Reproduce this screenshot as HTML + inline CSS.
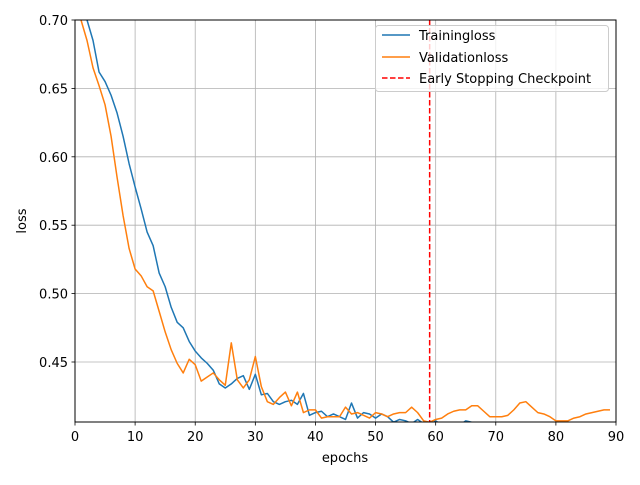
<!DOCTYPE html>
<html><head><meta charset="utf-8"><style>
body{margin:0;background:#fff;font-family:"Liberation Sans","DejaVu Sans",sans-serif}
</style></head><body>
<svg id="chart" width="640" height="480" xmlns="http://www.w3.org/2000/svg" font-family="DejaVu Sans, Liberation Sans, sans-serif">
<defs><clipPath id="plotclip"><rect x="75" y="20" width="541" height="402"/></clipPath></defs>
<rect width="640" height="480" fill="#fff"/>
<g id="grid"></g>
<g id="series" clip-path="url(#plotclip)"></g>
<rect x="75" y="20" width="541" height="402" fill="none" stroke="#000" stroke-width="1"/>
<g id="ticks"></g>
<text x="345" y="462" font-size="13" text-anchor="middle">epochs</text>
<text x="26" y="221" font-size="13" text-anchor="middle" transform="rotate(-90 26 221)">loss</text>
<g>
<rect x="375.5" y="25.5" width="233" height="66" rx="3" fill="#fff" fill-opacity="0.8" stroke="#ccc"/>
<line x1="382" y1="35" x2="410" y2="35" stroke="#1f77b4" stroke-width="1.5"/>
<text x="419" y="40" font-size="13">Trainingloss</text>
<line x1="382" y1="57" x2="410" y2="57" stroke="#ff7f0e" stroke-width="1.5"/>
<text x="419" y="62" font-size="13">Validationloss</text>
<line x1="382" y1="78" x2="410" y2="78" stroke="#ff0000" stroke-width="1.5" stroke-dasharray="5.5,2.5"/>
<text x="419" y="83" font-size="13">Early Stopping Checkpoint</text>
</g>
</svg>
<script>
const trainLoss=[0.73,0.715,0.70,0.685,0.662,0.655,0.645,0.632,0.615,0.595,0.578,0.562,0.545,0.535,0.515,0.505,0.49,0.479,0.475,0.465,0.458,0.453,0.449,0.444,0.434,0.431,0.434,0.438,0.440,0.430,0.441,0.426,0.427,0.421,0.419,0.421,0.422,0.419,0.427,0.411,0.413,0.414,0.410,0.412,0.410,0.408,0.420,0.409,0.413,0.412,0.409,0.412,0.410,0.406,0.408,0.407,0.405,0.408,0.405,0.404,0.407,0.404,0.403,0.402,0.404,0.407,0.406,0.405,0.403,0.402,0.401,0.401,0.400,0.400,0.399,0.399,0.398,0.398,0.397,0.397,0.396,0.396,0.396,0.395,0.395,0.395,0.394,0.394,0.394,0.393];
const valLoss=[0.71,0.70,0.685,0.665,0.652,0.638,0.615,0.585,0.557,0.533,0.518,0.513,0.505,0.502,0.487,0.472,0.459,0.449,0.442,0.452,0.448,0.436,0.439,0.442,0.437,0.433,0.464,0.437,0.431,0.437,0.454,0.432,0.421,0.419,0.424,0.428,0.418,0.428,0.413,0.415,0.415,0.409,0.410,0.410,0.410,0.417,0.412,0.413,0.411,0.409,0.413,0.412,0.410,0.412,0.413,0.413,0.417,0.413,0.407,0.406,0.408,0.409,0.412,0.414,0.415,0.415,0.418,0.418,0.414,0.410,0.410,0.410,0.411,0.415,0.420,0.421,0.417,0.413,0.412,0.410,0.407,0.407,0.407,0.409,0.410,0.412,0.413,0.414,0.415,0.415];
const checkpointEpoch=59;
const xTicks=[0,10,20,30,40,50,60,70,80,90];
const yTicks=[0.45,0.50,0.55,0.60,0.65,0.70];
const yTickLabels=["0.45","0.50","0.55","0.60","0.65","0.70"];
const NS="http://www.w3.org/2000/svg";
const X0=75,X1=616,XMIN=0,XMAX=90,Y_TOP=20,Y_BOT=422,YMAX=0.70,YMIN=0.70-402/1368;
function xs(e){return X0+(e-XMIN)/(XMAX-XMIN)*(X1-X0);}
function ys(v){return Y_TOP+(YMAX-v)/(YMAX-YMIN)*(Y_BOT-Y_TOP);}
function mk(tag,attrs,parent){const el=document.createElementNS(NS,tag);for(const k in attrs)el.setAttribute(k,attrs[k]);parent.appendChild(el);return el;}
const grid=document.getElementById('grid'),ticks=document.getElementById('ticks'),series=document.getElementById('series');
xTicks.forEach(t=>{const x=xs(t);
 const g=mk('line',{x1:x,x2:x,y1:Y_TOP,y2:Y_BOT,stroke:'#b0b0b0','stroke-width':0.8},grid);
 
 
 mk('line',{x1:x,x2:x,y1:Y_BOT,y2:Y_BOT+3.5,stroke:'#000','stroke-width':0.8},ticks);
 const tx=mk('text',{x:x,y:Y_BOT+19,'font-size':13,'text-anchor':'middle'},ticks);tx.textContent=t;
 
 
});
yTicks.forEach((t,i)=>{const y=ys(t);
 const g=mk('line',{x1:X0,x2:X1,y1:y,y2:y,stroke:'#b0b0b0','stroke-width':0.8},grid);
 
 
 mk('line',{x1:X0-3.5,x2:X0,y1:y,y2:y,stroke:'#000','stroke-width':0.8},ticks);
 const tx=mk('text',{x:X0-7,y:y+5,'font-size':13,'text-anchor':'end'},ticks);tx.textContent=yTickLabels[i];
 
 
});
function line(data,color,name){const pts=data.map((v,i)=>xs(i).toFixed(2)+','+ys(v).toFixed(2)).join(' ');
 const p=mk('polyline',{points:pts,fill:'none',stroke:color,'stroke-width':1.5,'stroke-linejoin':'round'},series);
 
 }
line(trainLoss,'#1f77b4','training-loss-line');
line(valLoss,'#ff7f0e','validation-loss-line');
const cp=mk('line',{x1:xs(checkpointEpoch),x2:xs(checkpointEpoch),y1:Y_TOP,y2:Y_BOT,stroke:'#ff0000','stroke-width':1.5,'stroke-dasharray':'5.5,2.5'},series);


</script>
</body></html>
